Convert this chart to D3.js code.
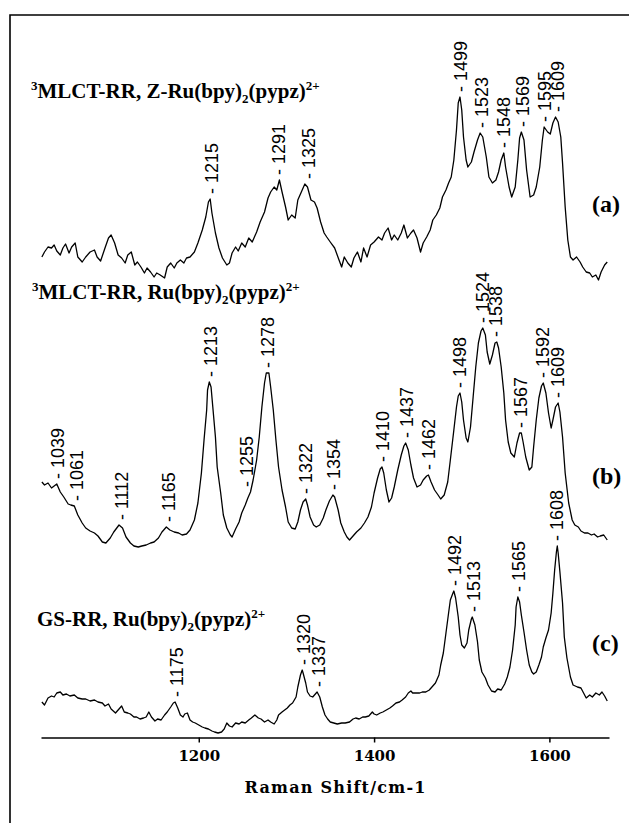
<!DOCTYPE html>
<html>
<head>
<meta charset="utf-8">
<script src="https://cdn.jsdelivr.net/npm/d3@7"></script>
<style>
body { margin: 0; background: #fff; }
svg { display: block; }
</style>
</head>
<body>
<svg id="chart"></svg>
<script>
// spectra: [Raman shift cm-1, intensity (arb.)]
const specA = [
[1021,43],[1024,48],[1028,53],[1032,52],[1035,55],[1038,49],[1042,45],[1045,52],[1048,56],[1052,47],
[1055,53],[1059,57],[1062,43],[1067,38],[1071,43],[1076,48],[1081,50],[1084,43],[1088,39],[1093,52],
[1097,62],[1100,65],[1104,57],[1108,45],[1112,42],[1116,37],[1119,45],[1123,48],[1127,35],[1130,38],
[1134,33],[1138,27],[1141,32],[1145,28],[1149,23],[1152,27],[1156,25],[1161,22],[1164,33],[1168,37],
[1172,32],[1175,37],[1179,40],[1183,37],[1186,42],[1190,43],[1195,48],[1199,57],[1204,70],[1208,83],
[1211,98],[1213,101],[1215,87],[1219,67],[1223,52],[1227,42],[1232,35],[1235,37],[1238,47],[1242,53],
[1245,49],[1249,57],[1253,53],[1257,62],[1261,58],[1266,68],[1270,78],[1275,88],[1279,102],[1282,108],
[1286,113],[1289,110],[1292,120],[1295,108],[1299,93],[1302,80],[1306,85],[1310,82],[1313,100],[1317,108],
[1321,116],[1324,113],[1328,100],[1332,98],[1335,92],[1339,78],[1343,67],[1346,63],[1350,58],[1355,52],
[1360,40],[1363,33],[1366,43],[1370,37],[1374,33],[1377,42],[1381,48],[1385,38],[1388,52],[1392,43],
[1396,55],[1400,58],[1405,63],[1409,60],[1412,67],[1416,72],[1420,60],[1423,65],[1427,60],[1431,67],
[1434,75],[1438,62],[1442,67],[1445,70],[1449,62],[1453,48],[1456,57],[1460,63],[1464,70],[1467,80],
[1471,85],[1475,92],[1478,103],[1482,110],[1485,117],[1488,123],[1491,140],[1494,170],[1496,197],[1498,203],
[1500,190],[1502,163],[1505,140],[1507,133],[1511,138],[1514,148],[1518,160],[1521,167],[1524,163],[1528,143],
[1531,123],[1535,117],[1539,120],[1542,128],[1545,140],[1548,147],[1550,133],[1554,113],[1557,103],[1561,113],
[1564,140],[1566,162],[1568,168],[1571,160],[1574,130],[1578,103],[1582,105],[1585,113],[1589,133],[1592,160],
[1594,173],[1598,168],[1601,166],[1604,177],[1607,183],[1610,178],[1613,163],[1615,137],[1618,93],[1621,60],
[1624,43],[1627,40],[1631,43],[1635,38],[1638,33],[1642,28],[1646,27],[1649,23],[1653,25],[1656,20],
[1659,28],[1663,35],[1666,38]
];
const specB = [
[1021,78],[1024,75],[1028,77],[1032,72],[1035,74],[1038,76],[1042,68],[1046,63],[1051,56],[1054,55],
[1058,54],[1062,45],[1067,37],[1071,32],[1076,29],[1081,27],[1085,24],[1090,18],[1094,17],[1099,22],
[1103,28],[1109,35],[1113,32],[1117,23],[1122,17],[1126,14],[1131,13],[1135,14],[1140,15],[1145,17],
[1149,18],[1154,22],[1158,28],[1163,33],[1167,30],[1172,28],[1177,27],[1181,25],[1186,26],[1190,30],
[1195,40],[1199,57],[1203,87],[1206,120],[1209,150],[1210,170],[1212,178],[1214,173],[1216,153],[1219,123],
[1221,93],[1225,67],[1228,45],[1232,32],[1236,25],[1238,23],[1242,31],[1246,38],[1249,47],[1253,55],
[1256,62],[1259,68],[1262,80],[1266,100],[1269,123],[1272,153],[1275,177],[1277,187],[1280,187],[1282,173],
[1285,150],[1288,120],[1291,93],[1295,70],[1299,53],[1302,38],[1306,32],[1310,31],[1313,38],[1316,50],
[1319,58],[1322,61],[1324,55],[1327,43],[1331,35],[1334,33],[1338,35],[1342,42],[1345,50],[1349,59],
[1353,65],[1355,63],[1359,50],[1362,37],[1366,28],[1369,23],[1372,20],[1376,24],[1380,28],[1385,32],
[1389,37],[1393,43],[1397,53],[1400,67],[1404,82],[1407,91],[1409,93],[1411,87],[1414,70],[1417,58],
[1420,62],[1423,73],[1427,90],[1431,105],[1434,114],[1436,117],[1439,110],[1442,95],[1445,82],[1449,73],
[1453,75],[1456,80],[1460,84],[1462,85],[1465,78],[1469,70],[1473,65],[1476,61],[1480,65],[1484,78],
[1487,100],[1491,130],[1494,153],[1496,164],[1498,167],[1500,158],[1502,140],[1505,122],[1507,118],[1510,133],
[1513,163],[1516,193],[1519,217],[1522,229],[1524,232],[1527,225],[1529,208],[1532,196],[1535,205],[1538,217],
[1540,218],[1542,212],[1545,193],[1548,167],[1550,140],[1553,118],[1556,107],[1560,103],[1563,117],[1566,127],
[1568,127],[1570,118],[1573,103],[1577,90],[1580,93],[1582,113],[1585,140],[1588,162],[1591,174],[1593,177],
[1596,167],[1599,147],[1602,132],[1604,140],[1607,153],[1610,157],[1612,148],[1615,123],[1618,87],[1622,57],
[1626,40],[1629,35],[1633,33],[1636,29],[1640,27],[1644,27],[1648,25],[1651,26],[1655,23],[1658,24],
[1662,25],[1666,20]
];
const specC = [
[1021,35],[1024,32],[1028,39],[1032,41],[1035,40],[1038,44],[1042,45],[1045,42],[1049,43],[1053,41],
[1058,42],[1062,39],[1067,38],[1071,38],[1076,36],[1081,37],[1085,35],[1090,34],[1093,31],[1097,33],
[1100,28],[1105,24],[1108,27],[1112,31],[1115,25],[1119,24],[1122,23],[1126,20],[1129,20],[1133,18],
[1137,19],[1140,20],[1143,25],[1146,20],[1150,16],[1153,18],[1157,17],[1161,22],[1164,25],[1168,30],
[1171,34],[1173,35],[1176,29],[1179,22],[1182,20],[1184,23],[1187,24],[1190,17],[1193,15],[1196,14],
[1200,12],[1204,10],[1207,9],[1211,8],[1215,6],[1218,5],[1222,4],[1226,5],[1229,8],[1232,14],
[1235,11],[1238,10],[1242,14],[1246,13],[1249,15],[1253,14],[1257,17],[1260,19],[1264,22],[1268,19],
[1271,18],[1275,15],[1279,17],[1282,15],[1286,13],[1289,17],[1291,22],[1295,25],[1298,27],[1301,29],
[1304,32],[1307,34],[1311,40],[1313,50],[1316,62],[1318,67],[1319,64],[1322,54],[1324,45],[1327,41],
[1330,40],[1333,43],[1335,45],[1338,40],[1341,30],[1344,22],[1347,18],[1350,15],[1354,14],[1358,13],
[1363,14],[1367,14],[1372,15],[1376,18],[1379,19],[1383,18],[1387,20],[1390,20],[1394,21],[1398,25],
[1400,23],[1403,22],[1407,24],[1410,25],[1414,27],[1418,29],[1421,31],[1425,34],[1429,35],[1432,37],
[1436,40],[1439,44],[1442,46],[1444,44],[1448,44],[1452,44],[1455,45],[1459,45],[1463,47],[1466,50],
[1470,54],[1474,62],[1476,72],[1479,84],[1482,104],[1485,124],[1487,137],[1490,144],[1491,146],[1493,139],
[1496,120],[1498,102],[1500,92],[1503,89],[1506,94],[1508,107],[1511,118],[1512,120],[1515,112],[1518,95],
[1520,77],[1523,65],[1527,59],[1530,52],[1534,46],[1538,45],[1541,48],[1545,47],[1549,53],[1552,60],
[1555,70],[1558,87],[1561,112],[1562,130],[1564,140],[1566,135],[1568,122],[1571,105],[1574,87],[1577,72],
[1580,65],[1582,63],[1585,65],[1588,72],[1591,80],[1593,90],[1596,99],[1599,107],[1602,124],[1604,144],
[1606,167],[1608,185],[1609,191],[1610,184],[1612,165],[1615,134],[1617,100],[1620,79],[1624,60],[1627,52],
[1632,50],[1636,49],[1639,44],[1642,39],[1646,42],[1649,40],[1653,44],[1657,42],[1660,45],[1663,41],
[1666,36]
];

const peaksA = [1215, 1291, 1325, 1499, 1523, 1548, 1569, 1595, 1609];
const peaksB = [1039, 1061, 1112, 1165, 1213, 1255, 1278, 1322, 1354, 1410, 1437, 1462, 1498, 1524, 1538, 1567, 1592, 1609];
const peaksC = [1175, 1320, 1337, 1492, 1513, 1565, 1608];

const xTicks = [1200, 1400, 1600];
const xTitle = "Raman Shift/cm-1";

// title pieces: [text, kind]
const titleA = [["3", "sup"], ["MLCT-RR, Z-Ru(bpy)", ""], ["2", "sub"], ["(pypz)", ""], ["2+", "sup"]];
const titleB = [["3", "sup"], ["MLCT-RR, Ru(bpy)", ""], ["2", "sub"], ["(pypz)", ""], ["2+", "sup"]];
const titleC = [["GS-RR, Ru(bpy)", ""], ["2", "sub"], ["(pypz)", ""], ["2+", "sup"]];
const tags = ["(a)", "(b)", "(c)"];

const W = 629, H = 823;
const svg = d3.select("#chart").attr("width", W).attr("height", H);

const x = d3.scaleLinear().domain([1020, 1668]).range([41, 609]);

// one y scale per stacked trace
const panels = [
    { spec: specA, peaks: peaksA, title: titleA, tag: tags[0],
      y: d3.scaleLinear().domain([0, 300]).range([300, 0]), titlePos: [31, 98], tagY: 212 },
    { spec: specB, peaks: peaksB, title: titleB, tag: tags[1],
      y: d3.scaleLinear().domain([0, 300]).range([560, 260]), titlePos: [32, 299], tagY: 484 },
    { spec: specC, peaks: peaksC, title: titleC, tag: tags[2],
      y: d3.scaleLinear().domain([0, 207]).range([737, 530]), titlePos: [37, 626], tagY: 651 }
];

// frame (top and left edges only are inside the picture)
svg.append("path")
    .attr("d", "M10,823 L10,15 L629,15")
    .attr("fill", "none")
    .attr("stroke", "#000")
    .attr("stroke-width", 1.6);

const line = d3.line().curve(d3.curveLinear);

function peakTop(spec, v) {
    const near = spec.filter(d => Math.abs(d[0] - v) <= 4);
    return d3.max(near, d => d[1]);
}

panels.forEach(p => {
    const g = svg.append("g");

    g.append("path")
        .datum(p.spec)
        .attr("d", line.x(d => x(d[0])).y(d => p.y(d[1])))
        .attr("fill", "none")
        .attr("stroke", "#000")
        .attr("stroke-width", 1.3)
        .attr("stroke-linejoin", "round");

    // peak labels, rotated, starting just above each peak
    g.selectAll(".peak")
        .data(p.peaks)
        .enter().append("text")
        .attr("class", "peak")
        .attr("transform", v => "translate(" + x(v) + "," + (p.y(peakTop(p.spec, v)) - 5) + ") rotate(-90)")
        .attr("dy", "0.36em")
        .attr("font-family", "'Liberation Sans', Arial, sans-serif")
        .attr("font-size", 18)
        .text(v => "- " + v);

    // title with sub/superscripts
    const t = g.append("text")
        .attr("x", p.titlePos[0])
        .attr("y", p.titlePos[1])
        .attr("font-family", "'Liberation Serif', 'Times New Roman', serif")
        .attr("font-weight", "bold")
        .attr("font-size", 21);
    let shift = 0;
    p.title.forEach(([s, kind]) => {
        const target = kind === "sup" ? -8 : kind === "sub" ? 5 : 0;
        t.append("tspan")
            .attr("dy", target - shift)
            .attr("font-size", kind ? 13 : 21)
            .text(s);
        shift = target;
    });

    g.append("text")
        .attr("x", 592)
        .attr("y", p.tagY)
        .attr("font-family", "'Liberation Serif', 'Times New Roman', serif")
        .attr("font-weight", "bold")
        .attr("font-size", 24)
        .text(p.tag);
});

// x axis
const axis = svg.append("g")
    .attr("transform", "translate(0,737.5)")
    .call(d3.axisBottom(x).tickValues(xTicks).tickSize(5).tickSizeOuter(0).tickFormat(d3.format("d")));
axis.select(".domain").attr("stroke", "#000").attr("stroke-width", 1.6);
axis.selectAll(".tick line").attr("stroke", "#000").attr("stroke-width", 1.5);
axis.selectAll(".tick text")
    .attr("y", 13)
    .attr("dy", "0.71em")
    .attr("fill", "#000")
    .attr("font-family", "'DejaVu Serif', serif")
    .attr("font-weight", "bold")
    .attr("font-size", 15);

svg.append("text")
    .attr("x", 335)
    .attr("y", 793)
    .attr("text-anchor", "middle")
    .attr("font-family", "'DejaVu Serif', serif")
    .attr("font-weight", "bold")
    .attr("font-size", 16)
    .attr("textLength", 181)
    .attr("lengthAdjust", "spacing")
    .text(xTitle);
</script>
</body>
</html>
